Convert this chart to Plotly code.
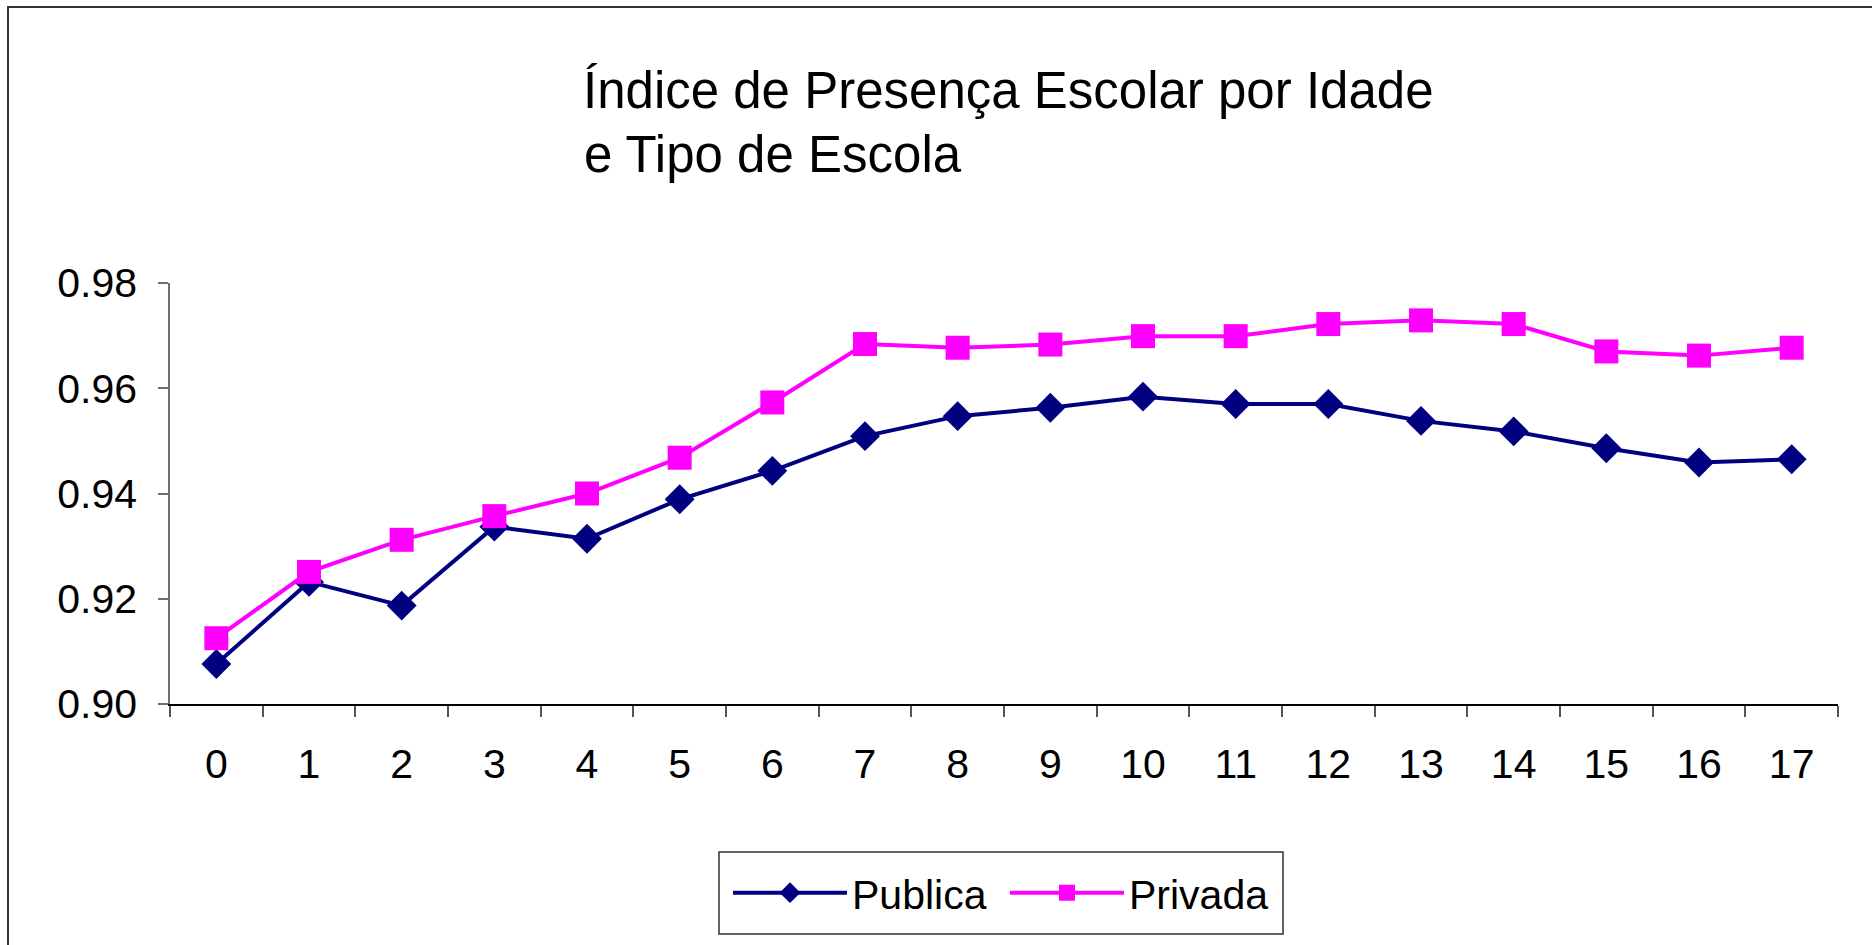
import plotly.graph_objects as go

idades = [str(i) for i in range(18)]
publica = [0.9076, 0.9232, 0.9187, 0.9337, 0.9314, 0.9389, 0.9443, 0.9509, 0.9547,
           0.9563, 0.9584, 0.9570, 0.9570, 0.9538, 0.9518, 0.9486, 0.9459, 0.9465]
privada = [0.9125, 0.9251, 0.9312, 0.9357, 0.9400, 0.9468, 0.9573, 0.9684, 0.9677,
           0.9683, 0.9699, 0.9699, 0.9722, 0.9729, 0.9722, 0.9670, 0.9662, 0.9677]
y_ticks = [0.90, 0.92, 0.94, 0.96, 0.98]
titulo = ['Índice de Presença Escolar por Idade', 'e Tipo de Escola']

FONT = 'Liberation Sans, Arial, sans-serif'

# plot area in pixels: x 170..1838, y 283..704
def px(x):
    return (x - 170) / 1668


def py(y):
    return (704 - y) / 421


fig = go.Figure()
fig.add_trace(go.Scatter(
    x=idades, y=publica, name='Publica', mode='lines+markers',
    line=dict(color='#000080', width=4),
    marker=dict(symbol='diamond', size=23, color='#000080')
))
fig.add_trace(go.Scatter(
    x=idades, y=privada, name='Privada', mode='lines+markers',
    line=dict(color='#ff00ff', width=4),
    marker=dict(symbol='square', size=24, color='#ff00ff')
))

fig.update_layout(
    width=1872,
    height=945,
    margin=dict(l=170, r=34, t=283, b=241),
    paper_bgcolor='white',
    plot_bgcolor='white',
    font=dict(family=FONT, color='black', size=41),
    title=dict(
        text=titulo[0],
        xref='container', yref='container',
        x=583 / 1872, xanchor='left',
        y=1 - 90 / 945, yanchor='middle',
        font=dict(family=FONT, size=51, color='black')
    ),
    annotations=[dict(
        text=titulo[1], xref='paper', yref='paper',
        x=px(583), xanchor='left',
        y=py(154), yanchor='middle',
        showarrow=False, borderpad=0,
        font=dict(family=FONT, size=51, color='black')
    )],
    xaxis=dict(
        type='category',
        range=[-0.5, 17.5],
        showgrid=False,
        showline=True, linecolor='black', linewidth=1.5,
        ticks='outside', tickson='boundaries', ticklen=11, tickcolor='#555555', tickwidth=1.5,
        ticklabelstandoff=23,
        tickfont=dict(size=41)
    ),
    yaxis=dict(
        range=[0.90, 0.98],
        tickvals=y_ticks,
        tickformat='.2f',
        showgrid=False, zeroline=False,
        showline=True, linecolor='#707070', linewidth=1.5,
        ticks='outside', ticklen=10, tickcolor='#707070', tickwidth=1.5,
        ticklabelstandoff=13,
        tickfont=dict(size=41)
    ),
    legend=dict(
        orientation='h',
        x=px(728), xanchor='left',
        y=py(893), yanchor='middle',
        borderwidth=0,
        bgcolor='rgba(0,0,0,0)',
        font=dict(size=41),
        itemwidth=114,
        entrywidth=148,
        tracegroupgap=0
    ),
    showlegend=True,
    shapes=[
        # outer chart border (only left and top edges fall inside the page)
        dict(type='rect', xref='paper', yref='paper',
             x0=px(8), x1=1.06, y0=-0.7, y1=py(7),
             line=dict(color='#333333', width=2)),
        # legend box
        dict(type='rect', xref='paper', yref='paper',
             x0=px(719), x1=px(1283), y0=py(934), y1=py(852),
             line=dict(color='#333333', width=1.5)),
    ]
)

fig.write_html('out.html', config={'displayModeBar': False},
               post_script="document.body.style.margin='0';")
